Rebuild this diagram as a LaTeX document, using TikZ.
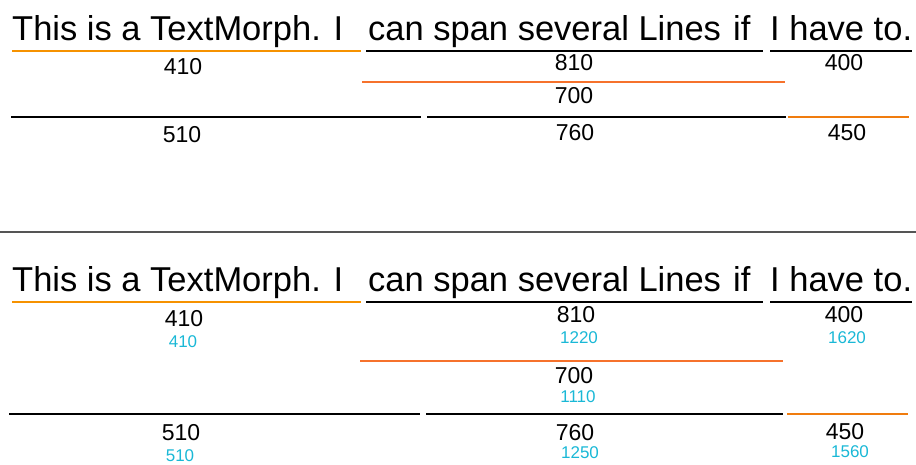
\documentclass[tikz,border=0pt]{standalone}
\usepackage{fontspec}
\setmainfont{Liberation Sans}
\definecolor{lineorange}{RGB}{246,146,0}
\definecolor{lineredorange}{RGB}{246,114,44}
\definecolor{linedeeporange}{RGB}{240,124,14}
\definecolor{posblue}{RGB}{26,184,214}
\definecolor{rulegray}{RGB}{85,85,85}
\begin{document}
\begin{tikzpicture}[x=1pt, y=-1pt, line cap=butt,
    word/.style={anchor=base west, inner sep=0pt, font=\fontsize{34.5}{34.5}\selectfont},
    num/.style={anchor=base, inner sep=0pt, font=\fontsize{23}{23}\selectfont},
    posnum/.style={anchor=base, inner sep=0pt, text=posblue, font=\fontsize{17}{17}\selectfont},
    uline/.style={line width=2.8pt}]
    \useasboundingbox (0,0) rectangle (916,464);
    \def \ya{40} %baseline of the upper text
    \def \yb{291}
    % words of both TextMorphs
    \foreach \x/\w [count=\i] in {12/This is a TextMorph. I, 368/can span several Lines, 733/if, 770/I have to.}{
        \node[word] (wa\i) at (\x,\ya) {\w};
        \node[word] (wb\i) at (\x,\yb) {\w};
    }
    % upper lines
    \draw[uline, lineorange] (12,51)--(361,51);
    \draw[uline] (366,51)--(763,51) (770,51)--(912,51);
    \draw[uline, lineredorange] (362,82)--(785,82);
    \draw[uline] (11,117)--(421,117) (427,117)--(786,117);
    \draw[uline, linedeeporange] (788,117)--(909,117);
    \foreach \x/\y/\t in {183/74/410, 574/70/810, 844/70/400, 574/103/700, 182/142/510, 575/140/760, 847/140/450}
        \node[num] (a\t) at (\x,\y) {\t};
    % separator
    \draw[line width=1.6pt, rulegray] (0,232)--(916,232);
    % lower lines
    \draw[uline, lineorange] (12,302)--(361,302);
    \draw[uline] (366,302)--(763,302) (770,302)--(912,302);
    \draw[uline, lineredorange] (360,361)--(783,361);
    \draw[uline] (9,414)--(420,414) (426,414)--(783,414);
    \draw[uline, linedeeporange] (787,414)--(908,414);
    \foreach \x/\y/\t in {184/326/410, 576/322/810, 844/322/400, 574/383/700, 181/440/510, 575/440/760, 845/439/450}
        \node[num] (b\t) at (\x,\y) {\t};
    \foreach \x/\y/\t in {183/347/410, 579/343/1220, 847/343/1620, 578/402/1110, 180/461/510, 580/458/1250, 850/457/1560}
        \node[posnum] (p\t) at (\x,\y) {\t};
\end{tikzpicture}
\end{document}
